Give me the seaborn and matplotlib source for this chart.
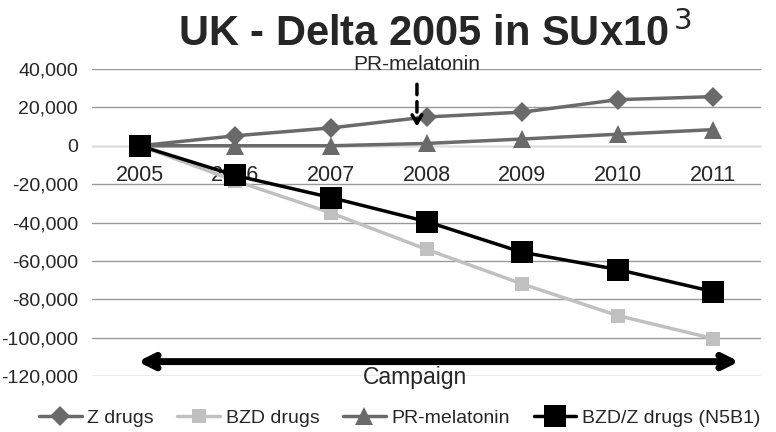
import matplotlib
matplotlib.use("Agg")
import matplotlib.pyplot as plt
import seaborn as sns
import pandas as pd
import numpy as np

years = ["2005", "2006", "2007", "2008", "2009", "2010", "2011"]
z_drugs = [0, 5200, 9300, 15000, 17500, 24000, 25600]
bzd_drugs = [0, -18300, -35000, -54000, -72000, -88500, -100500]
pr_melatonin = [0, 0, 0, 1200, 3500, 6000, 8400]
bzd_z_n5b1 = [0, -15500, -27000, -39500, -55500, -64500, -76000]
series_names = ["Z drugs", "BZD drugs", "PR-melatonin", "BZD/Z drugs (N5B1)"]
yticks = [40000, 20000, 0, -20000, -40000, -60000, -80000, -100000, -120000]

sns.set_style("white")
plt.rcParams['font.family'] = ['Liberation Sans', 'DejaVu Sans']

df = pd.DataFrame({
    "x": list(range(len(years))) * 4,
    "value": z_drugs + bzd_drugs + pr_melatonin + bzd_z_n5b1,
    "series": sum([[n] * len(years) for n in series_names], []),
})

styles = {
    "Z drugs": dict(color="#6a6a6a", marker="D", ms=10),
    "BZD drugs": dict(color="#c0c0c0", marker="s", ms=9.5),
    "PR-melatonin": dict(color="#6a6a6a", marker="^", ms=13),
    "BZD/Z drugs (N5B1)": dict(color="#000000", marker="s", ms=16),
}

fig = plt.figure(figsize=(7.76, 4.32), dpi=100)
ax = fig.add_axes([92/776, 56/432, (761-92)/776, (376-69)/432])

for name in series_names:
    st = styles[name]
    sub = df[df.series == name]
    sns.lineplot(data=sub, x="x", y="value", ax=ax, color=st["color"],
                 marker=st["marker"], markersize=st["ms"], markeredgewidth=0,
                 linewidth=2.5, label=name, legend=False, zorder=3)

ax.set_xlim(-0.5, 6.5)
ax.set_ylim(-120000, 40000)
ax.set_yticks(yticks)
ax.set_yticklabels([f"{v:,}" for v in yticks], fontsize=14)
ax.yaxis.grid(True, color="#999999", linewidth=1)
ax.set_axisbelow(True)
ax.tick_params(axis="y", length=0, pad=10)

for s in ["left", "right", "top"]:
    ax.spines[s].set_visible(False)
ax.spines["bottom"].set_position(("data", 0))
ax.spines["bottom"].set_color("#dddddd")
ax.spines["bottom"].set_linewidth(1)
ax.set_xticks(range(len(years)))
ax.set_xticklabels(years, fontsize=15.5)
ax.set_xticks(np.arange(-0.5, 6.6, 1.0), minor=True)
ax.tick_params(axis="x", which="major", length=0, pad=14)
ax.tick_params(axis="x", which="minor", length=5, color="#dddddd", width=1)
ax.set_xlabel("")
ax.set_ylabel("")

# Title
fig.text(0.56, 0.922, "UK - Delta 2005 in SUx10$^{\\,3}$", ha="center", va="center",
         fontsize=30, fontweight="bold", family=["Liberation Sans Narrow", "Liberation Sans"])

# PR-melatonin annotation
ax.text(2.9, 42300, "PR-melatonin", ha="center", va="center", fontsize=15, zorder=1)
ax.annotate("", xy=(2.9, 12000), xytext=(2.9, 33500),
            arrowprops=dict(arrowstyle="-", linestyle=(0, (3, 2)), lw=2.5, color="black"))
ax.annotate("", xy=(2.9, 8500), xytext=(2.9, 14500),
            arrowprops=dict(arrowstyle="->,head_length=0.6,head_width=0.35", lw=2.5, color="black"))

# Campaign arrow
ax.annotate("", xy=(-0.05, -112500), xytext=(6.3, -112500),
            arrowprops=dict(arrowstyle="<->,head_length=0.9,head_width=0.45", lw=5, color="black"))
ax.text(2.88, -121000, "Campaign", ha="center", va="center", fontsize=16.5,
        family=["Liberation Sans Narrow", "Liberation Sans"])

handles, labels = ax.get_legend_handles_labels()
fig.legend(handles, labels, loc="center", bbox_to_anchor=(0.515, 0.033), ncol=4,
           frameon=False, handlelength=2.2, columnspacing=1.2,
           handletextpad=0.3, prop={"family": ["Liberation Sans Narrow", "Liberation Sans"], "size": 14})

fig.savefig("out.png", dpi=100)
